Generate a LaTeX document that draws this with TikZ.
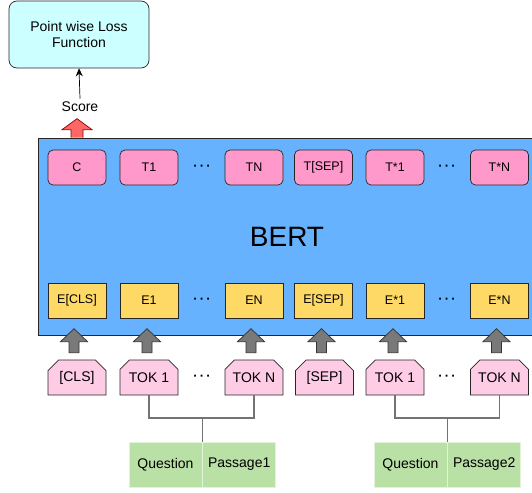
\documentclass[tikz,border=0pt]{standalone}
\usepackage{fontspec}
\setmainfont{Liberation Sans}
\usepackage{xcolor}
\usepackage{tikz}
\usetikzlibrary{arrows.meta, positioning, shapes.misc}

\definecolor{bertblue}{HTML}{66B2FF}
\definecolor{outpink}{HTML}{FF99CC}
\definecolor{embyellow}{HTML}{FFD966}
\definecolor{tokpink}{HTML}{FFCCE6}
\definecolor{losscyan}{HTML}{CCFFFF}
\definecolor{seggreen}{HTML}{B9E0A5}
\definecolor{scorered}{HTML}{FF6666}

\begin{document}
\begin{tikzpicture}[
  x=1pt, y=-1pt,
  font=\fontsize{14}{16.5}\selectfont,
  outbox/.style={
    draw=black!85,
    fill=outpink,
    rounded corners=5pt,
    line width=0.7pt,
    minimum width=58pt,
    minimum height=35pt,
    inner sep=1pt,
    font=\fontsize{12.5}{15}\selectfont
  },
  embbox/.style={
    draw=black!85,
    fill=embyellow,
    line width=0.7pt,
    minimum width=58pt,
    minimum height=35pt,
    inner sep=1pt,
    font=\fontsize{12.5}{15}\selectfont
  },
  tokbox/.style={
    chamfered rectangle,
    chamfered rectangle corners={north east, north west},
    chamfered rectangle xsep=7pt,
    draw=black!85,
    fill=tokpink,
    line width=0.7pt,
    minimum width=58pt,
    minimum height=35pt,
    inner sep=1pt
  },
  segbox/.style={
    draw=white!60!seggreen,
    fill=seggreen,
    line width=0.7pt,
    minimum width=73pt,
    minimum height=45pt,
    inner sep=1pt
  },
  grayarrow/.style={
    draw=black!80,
    fill=gray!95!black,
    line width=0.7pt
  },
  link/.style={
    draw=gray!90!black,
    line width=1.2pt
  },
  dots/.style={font=\bfseries\fontsize{13}{15}\selectfont}
]
\useasboundingbox (0,0) rectangle (532,492);

% Loss box and score
\node[draw=black!85, fill=losscyan, rounded corners=8pt, line width=0.7pt,
  minimum width=140pt, minimum height=67pt, align=center] (loss) at (79,34.5)
{Point wise Loss\\Function};

\node (score) at (80,107) {Score};
\draw[-{Stealth[length=8pt,width=7pt]}, line width=0.7pt] (score.north) -- (loss.south);

% BERT block
\node[draw=black!85, fill=bertblue, line width=0.7pt, minimum width=498pt,
  minimum height=197pt, inner sep=0pt, font=\fontsize{28}{32}\selectfont] (bert) at (287,236.5)
{BERT};

% Output row
\node[outbox] (c) at (77,167.5) {C};
\node[outbox] (t1) at (149,167.5) {T1};
\node[dots] (tdots) at (202,167.5) {·\,·\,·};
\node[outbox] (tn) at (254,167.5) {TN};
\node[outbox] (tsep) at (323.5,167.5) {T[SEP]};
\node[outbox] (tb1) at (395,167.5) {T*1};
\node[dots] (tbdots) at (447,167.5) {·\,·\,·};
\node[outbox] (tbn) at (499.5,167.5) {T*N};

% Red score arrow, from BERT top above C
\draw[fill=scorered, draw=red!55!black, line width=0.7pt]
  (c.north) ++(-6,-12) -- ++(0,-8) -- ++(-9,0) -- ++(15,-11)
  -- ++(15,11) -- ++(-9,0) -- ++(0,8);

% Embedding row
\node[embbox] (ecls) at (77,300.5) {E[CLS]};
\node[embbox] (e1) at (149,300.5) {E1};
\node[dots] (edots) at (202,300.5) {·\,·\,·};
\node[embbox] (en) at (254,300.5) {EN};
\node[embbox] (esep) at (323.5,300.5) {E[SEP]};
\node[embbox] (eb1) at (395,300.5) {E*1};
\node[dots] (ebdots) at (447,300.5) {·\,·\,·};
\node[embbox] (ebn) at (499.5,300.5) {E*N};

% Input tokens
\node[tokbox] (cls) at (77,377.5) {[CLS]};
\node[tokbox] (tok1) at (149,377.5) {TOK 1};
\node[dots] (kdots) at (202,377.5) {·\,·\,·};
\node[tokbox] (tokn) at (254,377.5) {TOK N};
\node[tokbox] (sep) at (324.5,377.5) {[SEP]};
\node[tokbox] (tokb1) at (395,377.5) {TOK 1};
\node[dots] (kbdots) at (447,377.5) {·\,·\,·};
\node[tokbox] (tokbn) at (499.5,377.5) {TOK N};

% Gray input arrows, token -> BERT
\draw[grayarrow] (cls.north) ++(-8,-7) -- ++(0,-11) -- ++(-8.5,0) -- ++(13.5,-13)
  -- ++(13.5,13) -- ++(-8.5,0) -- ++(0,11) -- cycle;
\draw[grayarrow] (tok1.north) ++(-7,-7) -- ++(0,-11) -- ++(-8.5,0) -- ++(13.5,-13)
  -- ++(13.5,13) -- ++(-8.5,0) -- ++(0,11) -- cycle;
\draw[grayarrow] (tokn.north) ++(-8,-7) -- ++(0,-11) -- ++(-8.5,0) -- ++(13.5,-13)
  -- ++(13.5,13) -- ++(-8.5,0) -- ++(0,11) -- cycle;
\draw[grayarrow] (sep.north) ++(-8,-7) -- ++(0,-11) -- ++(-8.5,0) -- ++(13.5,-13)
  -- ++(13.5,13) -- ++(-8.5,0) -- ++(0,11) -- cycle;
\draw[grayarrow] (tokb1.north) ++(-7,-7) -- ++(0,-11) -- ++(-8.5,0) -- ++(13.5,-13)
  -- ++(13.5,13) -- ++(-8.5,0) -- ++(0,11) -- cycle;
\draw[grayarrow] (tokbn.north) ++(-8,-7) -- ++(0,-11) -- ++(-8.5,0) -- ++(13.5,-13)
  -- ++(13.5,13) -- ++(-8.5,0) -- ++(0,11) -- cycle;

% Segments
\node[segbox] (q1) at (165.5,464.5) {Question};
\node[segbox, right=0pt of q1] (p1) {Passage1};
\node[segbox] (q2) at (410.5,464.5) {Question};
\node[segbox, right=0pt of q2] (p2) {Passage2};

\coordinate (j1) at (q1.north east |- 0,418);
\coordinate (j2) at (q2.north east |- 0,418);
\draw[link] (tok1.south) |- (j1) -| (tokn.south);
\draw[link] (j1) -- (q1.north east);
\draw[link] (tokb1.south) |- (j2) -| (tokbn.south);
\draw[link] (j2) -- (q2.north east);

\end{tikzpicture}
\end{document}
